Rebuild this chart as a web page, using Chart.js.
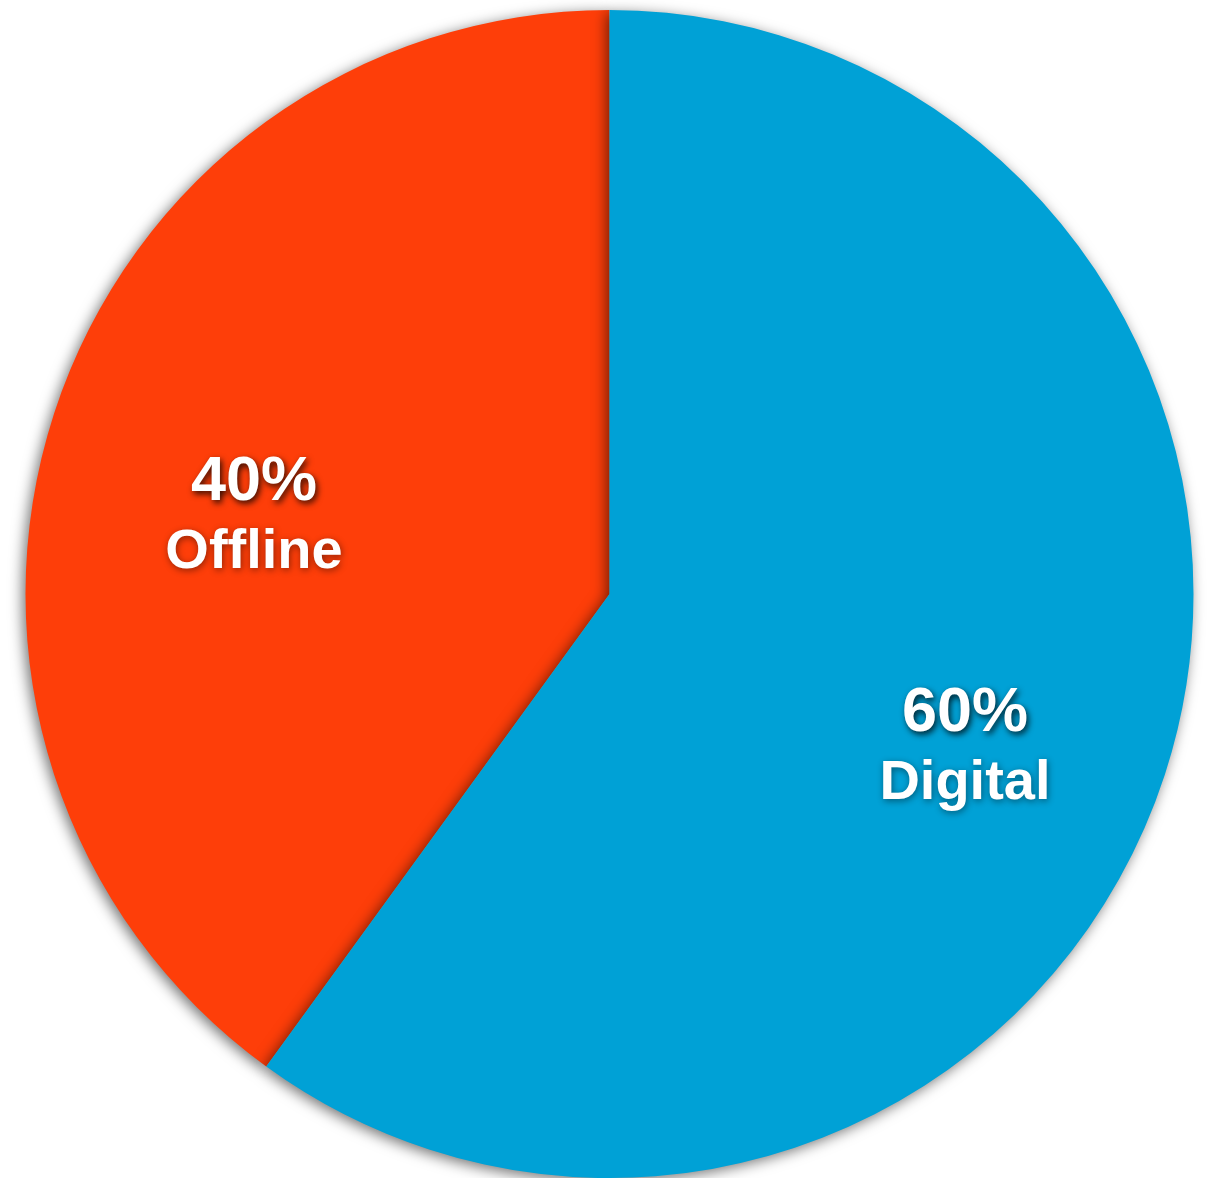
<!DOCTYPE html>
<html lang="en">
<head>
    <meta charset="UTF-8">
    <title>Digital vs Offline</title>
    <script src="https://cdn.jsdelivr.net/npm/chart.js"></script>
    <style>
        html, body {
            margin: 0;
            padding: 0;
            background: #ffffff;
        }
        #wrap {
            width: 1217px;
            height: 1178px;
            position: relative;
        }
    </style>
</head>
<body>
    <div id="wrap">
        <canvas id="pieChart"></canvas>
    </div>

    <script>
        // data
        const categories = ['Offline', 'Digital'];
        const shares = [40, 60];
        const sliceColors = ['#fe3e09', '#00a1d6'];

        // soft drop shadow under the slices
        const shadowPlugin = {
            id: 'sliceShadow',
            beforeDatasetsDraw(chart) {
                const ctx = chart.ctx;
                ctx.save();
                ctx.shadowColor = 'rgba(0,0,0,0.55)';
                ctx.shadowBlur = 14;
                ctx.shadowOffsetX = -3;
                ctx.shadowOffsetY = 3;
            },
            afterDatasetsDraw(chart) {
                chart.ctx.restore();
            }
        };

        // percentage + name inside each slice
        const labelPlugin = {
            id: 'sliceLabels',
            afterDraw(chart) {
                const ctx = chart.ctx;
                const meta = chart.getDatasetMeta(0);
                meta.data.forEach((arc, i) => {
                    const p = arc.getProps(['x', 'y', 'startAngle', 'endAngle', 'outerRadius'], true);
                    const mid = (p.startAngle + p.endAngle) / 2;
                    const r = p.outerRadius * 0.64;
                    const x = p.x + Math.cos(mid) * r;
                    const y = p.y + Math.sin(mid) * r + 4;

                    ctx.save();
                    ctx.textAlign = 'center';
                    ctx.textBaseline = 'middle';
                    ctx.fillStyle = '#ffffff';
                    ctx.shadowColor = 'rgba(0,0,0,0.8)';
                    ctx.shadowBlur = 6;
                    ctx.shadowOffsetX = 2;
                    ctx.shadowOffsetY = 3;
                    ctx.font = 'bold 63px "Liberation Sans", Arial, sans-serif';
                    ctx.fillText(shares[i] + '%', x, y);
                    ctx.shadowColor = 'rgba(0,0,0,0.45)';
                    ctx.shadowBlur = 7;
                    ctx.shadowOffsetX = 1;
                    ctx.shadowOffsetY = 2;
                    ctx.font = 'bold 56px "Liberation Sans", Arial, sans-serif';
                    ctx.fillText(categories[i], x, y + 70);
                    ctx.restore();
                });
            }
        };

        const ctx = document.getElementById('pieChart').getContext('2d');
        new Chart(ctx, {
            type: 'pie',
            data: {
                labels: categories,
                datasets: [{
                    data: shares,
                    backgroundColor: sliceColors,
                    borderWidth: 0
                }]
            },
            options: {
                responsive: true,
                maintainAspectRatio: false,
                animation: false,
                rotation: 216,
                layout: {
                    padding: { top: 10, bottom: 0, left: 24, right: 22 }
                },
                plugins: {
                    legend: { display: false },
                    tooltip: { enabled: false }
                }
            },
            plugins: [shadowPlugin, labelPlugin]
        });
    </script>
</body>
</html>
